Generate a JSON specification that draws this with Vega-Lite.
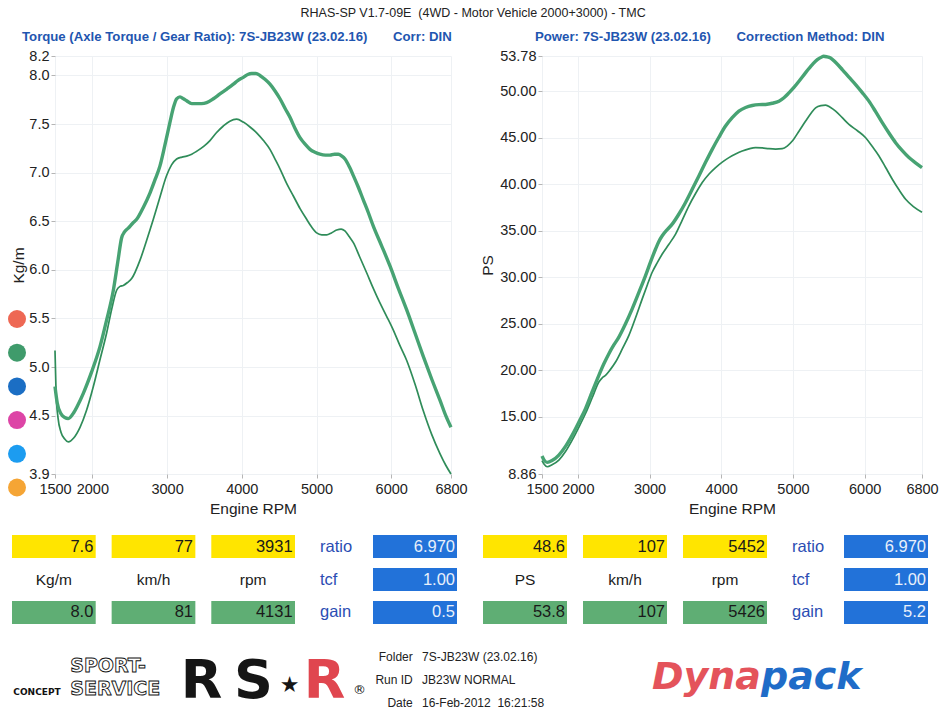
{
"$schema": "https://vega.github.io/schema/vega-lite/v6.json",
"background": "white",
"padding": {"left": 8, "top": 7, "right": 0, "bottom": 0},
"autosize": {"type": "pad"},
"title": {"text": "RHAS-SP V1.7-09E\u00a0 (4WD - Motor Vehicle 2000+3000) - TMC", "fontSize": 12.5, "fontWeight": "normal", "color": "#222222", "anchor": "middle", "offset": 10},
"columns": 2,
"bounds": "flush",
"spacing": {"row": 20, "column": 91},
"datasets": {
"torque": [
{"rpm":1500,"run":"Run 1","kgm":5.17},{"rpm":1515,"run":"Run 1","kgm":4.72},{"rpm":1540,"run":"Run 1","kgm":4.48},{"rpm":1580,"run":"Run 1","kgm":4.33},{"rpm":1630,"run":"Run 1","kgm":4.26},{"rpm":1678,"run":"Run 1","kgm":4.23},{"rpm":1750,"run":"Run 1","kgm":4.27},{"rpm":1835,"run":"Run 1","kgm":4.38},{"rpm":1920,"run":"Run 1","kgm":4.55},{"rpm":2013,"run":"Run 1","kgm":4.80},{"rpm":2100,"run":"Run 1","kgm":5.07},{"rpm":2191,"run":"Run 1","kgm":5.35},{"rpm":2260,"run":"Run 1","kgm":5.60},{"rpm":2325,"run":"Run 1","kgm":5.79},{"rpm":2370,"run":"Run 1","kgm":5.83},{"rpm":2414,"run":"Run 1","kgm":5.84},{"rpm":2470,"run":"Run 1","kgm":5.87},{"rpm":2526,"run":"Run 1","kgm":5.91},{"rpm":2638,"run":"Run 1","kgm":6.10},{"rpm":2725,"run":"Run 1","kgm":6.30},{"rpm":2816,"run":"Run 1","kgm":6.52},{"rpm":2905,"run":"Run 1","kgm":6.75},{"rpm":2994,"run":"Run 1","kgm":6.97},{"rpm":3060,"run":"Run 1","kgm":7.08},{"rpm":3128,"run":"Run 1","kgm":7.14},{"rpm":3200,"run":"Run 1","kgm":7.16},{"rpm":3262,"run":"Run 1","kgm":7.17},{"rpm":3330,"run":"Run 1","kgm":7.19},{"rpm":3396,"run":"Run 1","kgm":7.22},{"rpm":3490,"run":"Run 1","kgm":7.27},{"rpm":3574,"run":"Run 1","kgm":7.33},{"rpm":3660,"run":"Run 1","kgm":7.41},{"rpm":3753,"run":"Run 1","kgm":7.48},{"rpm":3840,"run":"Run 1","kgm":7.53},{"rpm":3931,"run":"Run 1","kgm":7.55},{"rpm":4020,"run":"Run 1","kgm":7.52},{"rpm":4110,"run":"Run 1","kgm":7.47},{"rpm":4199,"run":"Run 1","kgm":7.41},{"rpm":4290,"run":"Run 1","kgm":7.33},{"rpm":4377,"run":"Run 1","kgm":7.24},{"rpm":4445,"run":"Run 1","kgm":7.14},{"rpm":4511,"run":"Run 1","kgm":7.04},{"rpm":4600,"run":"Run 1","kgm":6.89},{"rpm":4690,"run":"Run 1","kgm":6.76},{"rpm":4780,"run":"Run 1","kgm":6.63},{"rpm":4868,"run":"Run 1","kgm":6.52},{"rpm":4935,"run":"Run 1","kgm":6.44},{"rpm":5002,"run":"Run 1","kgm":6.38},{"rpm":5070,"run":"Run 1","kgm":6.36},{"rpm":5136,"run":"Run 1","kgm":6.36},{"rpm":5200,"run":"Run 1","kgm":6.38},{"rpm":5270,"run":"Run 1","kgm":6.41},{"rpm":5330,"run":"Run 1","kgm":6.42},{"rpm":5380,"run":"Run 1","kgm":6.40},{"rpm":5440,"run":"Run 1","kgm":6.34},{"rpm":5493,"run":"Run 1","kgm":6.28},{"rpm":5580,"run":"Run 1","kgm":6.13},{"rpm":5671,"run":"Run 1","kgm":5.97},{"rpm":5760,"run":"Run 1","kgm":5.81},{"rpm":5849,"run":"Run 1","kgm":5.66},{"rpm":5940,"run":"Run 1","kgm":5.52},{"rpm":6028,"run":"Run 1","kgm":5.38},{"rpm":6117,"run":"Run 1","kgm":5.22},{"rpm":6206,"run":"Run 1","kgm":5.07},{"rpm":6320,"run":"Run 1","kgm":4.82},{"rpm":6429,"run":"Run 1","kgm":4.55},{"rpm":6540,"run":"Run 1","kgm":4.31},{"rpm":6652,"run":"Run 1","kgm":4.11},{"rpm":6730,"run":"Run 1","kgm":3.99},{"rpm":6800,"run":"Run 1","kgm":3.90},
{"rpm":1500,"run":"Run 2","kgm":4.80},{"rpm":1530,"run":"Run 2","kgm":4.63},{"rpm":1580,"run":"Run 2","kgm":4.52},{"rpm":1630,"run":"Run 2","kgm":4.48},{"rpm":1678,"run":"Run 2","kgm":4.47},{"rpm":1750,"run":"Run 2","kgm":4.53},{"rpm":1800,"run":"Run 2","kgm":4.60},{"rpm":1879,"run":"Run 2","kgm":4.73},{"rpm":1990,"run":"Run 2","kgm":4.95},{"rpm":2102,"run":"Run 2","kgm":5.21},{"rpm":2190,"run":"Run 2","kgm":5.48},{"rpm":2281,"run":"Run 2","kgm":5.79},{"rpm":2340,"run":"Run 2","kgm":6.08},{"rpm":2392,"run":"Run 2","kgm":6.33},{"rpm":2430,"run":"Run 2","kgm":6.39},{"rpm":2481,"run":"Run 2","kgm":6.43},{"rpm":2540,"run":"Run 2","kgm":6.48},{"rpm":2593,"run":"Run 2","kgm":6.52},{"rpm":2680,"run":"Run 2","kgm":6.64},{"rpm":2771,"run":"Run 2","kgm":6.79},{"rpm":2840,"run":"Run 2","kgm":6.93},{"rpm":2905,"run":"Run 2","kgm":7.07},{"rpm":2970,"run":"Run 2","kgm":7.28},{"rpm":3039,"run":"Run 2","kgm":7.52},{"rpm":3085,"run":"Run 2","kgm":7.67},{"rpm":3128,"run":"Run 2","kgm":7.76},{"rpm":3173,"run":"Run 2","kgm":7.78},{"rpm":3220,"run":"Run 2","kgm":7.76},{"rpm":3262,"run":"Run 2","kgm":7.74},{"rpm":3330,"run":"Run 2","kgm":7.71},{"rpm":3396,"run":"Run 2","kgm":7.71},{"rpm":3460,"run":"Run 2","kgm":7.71},{"rpm":3530,"run":"Run 2","kgm":7.72},{"rpm":3620,"run":"Run 2","kgm":7.76},{"rpm":3708,"run":"Run 2","kgm":7.81},{"rpm":3800,"run":"Run 2","kgm":7.86},{"rpm":3887,"run":"Run 2","kgm":7.91},{"rpm":3950,"run":"Run 2","kgm":7.95},{"rpm":4020,"run":"Run 2","kgm":7.98},{"rpm":4080,"run":"Run 2","kgm":8.01},{"rpm":4132,"run":"Run 2","kgm":8.02},{"rpm":4190,"run":"Run 2","kgm":8.02},{"rpm":4243,"run":"Run 2","kgm":8.00},{"rpm":4310,"run":"Run 2","kgm":7.96},{"rpm":4377,"run":"Run 2","kgm":7.91},{"rpm":4445,"run":"Run 2","kgm":7.84},{"rpm":4511,"run":"Run 2","kgm":7.76},{"rpm":4580,"run":"Run 2","kgm":7.66},{"rpm":4645,"run":"Run 2","kgm":7.57},{"rpm":4710,"run":"Run 2","kgm":7.46},{"rpm":4779,"run":"Run 2","kgm":7.36},{"rpm":4850,"run":"Run 2","kgm":7.29},{"rpm":4913,"run":"Run 2","kgm":7.24},{"rpm":4980,"run":"Run 2","kgm":7.21},{"rpm":5046,"run":"Run 2","kgm":7.19},{"rpm":5120,"run":"Run 2","kgm":7.18},{"rpm":5180,"run":"Run 2","kgm":7.18},{"rpm":5240,"run":"Run 2","kgm":7.19},{"rpm":5292,"run":"Run 2","kgm":7.19},{"rpm":5340,"run":"Run 2","kgm":7.17},{"rpm":5381,"run":"Run 2","kgm":7.14},{"rpm":5440,"run":"Run 2","kgm":7.06},{"rpm":5493,"run":"Run 2","kgm":6.97},{"rpm":5560,"run":"Run 2","kgm":6.85},{"rpm":5626,"run":"Run 2","kgm":6.72},{"rpm":5693,"run":"Run 2","kgm":6.59},{"rpm":5760,"run":"Run 2","kgm":6.45},{"rpm":5870,"run":"Run 2","kgm":6.25},{"rpm":5983,"run":"Run 2","kgm":6.04},{"rpm":6095,"run":"Run 2","kgm":5.81},{"rpm":6206,"run":"Run 2","kgm":5.59},{"rpm":6318,"run":"Run 2","kgm":5.35},{"rpm":6429,"run":"Run 2","kgm":5.11},{"rpm":6540,"run":"Run 2","kgm":4.88},{"rpm":6652,"run":"Run 2","kgm":4.66},{"rpm":6730,"run":"Run 2","kgm":4.50},{"rpm":6800,"run":"Run 2","kgm":4.38}
],
"power": [
{"rpm":1500,"run":"Run 1","ps":10.30},{"rpm":1530,"run":"Run 1","ps":9.90},{"rpm":1572,"run":"Run 1","ps":9.64},{"rpm":1640,"run":"Run 1","ps":9.85},{"rpm":1735,"run":"Run 1","ps":10.36},{"rpm":1830,"run":"Run 1","ps":11.30},{"rpm":1921,"run":"Run 1","ps":12.50},{"rpm":2015,"run":"Run 1","ps":13.90},{"rpm":2107,"run":"Run 1","ps":15.36},{"rpm":2200,"run":"Run 1","ps":17.05},{"rpm":2293,"run":"Run 1","ps":18.75},{"rpm":2340,"run":"Run 1","ps":19.20},{"rpm":2386,"run":"Run 1","ps":19.46},{"rpm":2450,"run":"Run 1","ps":20.05},{"rpm":2526,"run":"Run 1","ps":20.89},{"rpm":2620,"run":"Run 1","ps":22.30},{"rpm":2712,"run":"Run 1","ps":23.75},{"rpm":2805,"run":"Run 1","ps":25.65},{"rpm":2898,"run":"Run 1","ps":27.68},{"rpm":2970,"run":"Run 1","ps":29.20},{"rpm":3037,"run":"Run 1","ps":30.54},{"rpm":3110,"run":"Run 1","ps":31.60},{"rpm":3177,"run":"Run 1","ps":32.50},{"rpm":3270,"run":"Run 1","ps":33.55},{"rpm":3363,"run":"Run 1","ps":34.64},{"rpm":3456,"run":"Run 1","ps":36.15},{"rpm":3549,"run":"Run 1","ps":37.68},{"rpm":3642,"run":"Run 1","ps":39.00},{"rpm":3735,"run":"Run 1","ps":40.18},{"rpm":3830,"run":"Run 1","ps":41.10},{"rpm":3921,"run":"Run 1","ps":41.79},{"rpm":4014,"run":"Run 1","ps":42.38},{"rpm":4107,"run":"Run 1","ps":42.86},{"rpm":4200,"run":"Run 1","ps":43.25},{"rpm":4293,"run":"Run 1","ps":43.57},{"rpm":4386,"run":"Run 1","ps":43.80},{"rpm":4479,"run":"Run 1","ps":43.93},{"rpm":4572,"run":"Run 1","ps":43.90},{"rpm":4665,"run":"Run 1","ps":43.82},{"rpm":4758,"run":"Run 1","ps":43.78},{"rpm":4851,"run":"Run 1","ps":43.82},{"rpm":4920,"run":"Run 1","ps":44.10},{"rpm":4991,"run":"Run 1","ps":44.64},{"rpm":5084,"run":"Run 1","ps":45.70},{"rpm":5177,"run":"Run 1","ps":46.79},{"rpm":5250,"run":"Run 1","ps":47.60},{"rpm":5316,"run":"Run 1","ps":48.21},{"rpm":5390,"run":"Run 1","ps":48.45},{"rpm":5456,"run":"Run 1","ps":48.50},{"rpm":5525,"run":"Run 1","ps":48.25},{"rpm":5595,"run":"Run 1","ps":47.86},{"rpm":5688,"run":"Run 1","ps":47.15},{"rpm":5781,"run":"Run 1","ps":46.43},{"rpm":5900,"run":"Run 1","ps":45.75},{"rpm":6014,"run":"Run 1","ps":45.00},{"rpm":6107,"run":"Run 1","ps":44.05},{"rpm":6200,"run":"Run 1","ps":43.04},{"rpm":6293,"run":"Run 1","ps":41.80},{"rpm":6386,"run":"Run 1","ps":40.54},{"rpm":6479,"run":"Run 1","ps":39.40},{"rpm":6572,"run":"Run 1","ps":38.39},{"rpm":6680,"run":"Run 1","ps":37.60},{"rpm":6800,"run":"Run 1","ps":37.00},
{"rpm":1500,"run":"Run 2","ps":10.80},{"rpm":1530,"run":"Run 2","ps":10.35},{"rpm":1572,"run":"Run 2","ps":10.11},{"rpm":1640,"run":"Run 2","ps":10.30},{"rpm":1735,"run":"Run 2","ps":10.89},{"rpm":1830,"run":"Run 2","ps":11.85},{"rpm":1921,"run":"Run 2","ps":13.04},{"rpm":2015,"run":"Run 2","ps":14.45},{"rpm":2107,"run":"Run 2","ps":15.89},{"rpm":2200,"run":"Run 2","ps":17.70},{"rpm":2293,"run":"Run 2","ps":19.46},{"rpm":2363,"run":"Run 2","ps":20.70},{"rpm":2433,"run":"Run 2","ps":21.79},{"rpm":2500,"run":"Run 2","ps":22.70},{"rpm":2572,"run":"Run 2","ps":23.57},{"rpm":2665,"run":"Run 2","ps":25.00},{"rpm":2758,"run":"Run 2","ps":26.61},{"rpm":2850,"run":"Run 2","ps":28.35},{"rpm":2944,"run":"Run 2","ps":30.18},{"rpm":3014,"run":"Run 2","ps":31.65},{"rpm":3084,"run":"Run 2","ps":33.04},{"rpm":3130,"run":"Run 2","ps":33.85},{"rpm":3177,"run":"Run 2","ps":34.46},{"rpm":3250,"run":"Run 2","ps":35.15},{"rpm":3316,"run":"Run 2","ps":35.71},{"rpm":3410,"run":"Run 2","ps":36.80},{"rpm":3502,"run":"Run 2","ps":38.04},{"rpm":3595,"run":"Run 2","ps":39.45},{"rpm":3688,"run":"Run 2","ps":40.89},{"rpm":3781,"run":"Run 2","ps":42.35},{"rpm":3874,"run":"Run 2","ps":43.75},{"rpm":3967,"run":"Run 2","ps":45.05},{"rpm":4060,"run":"Run 2","ps":46.25},{"rpm":4153,"run":"Run 2","ps":47.15},{"rpm":4246,"run":"Run 2","ps":47.86},{"rpm":4340,"run":"Run 2","ps":48.25},{"rpm":4433,"run":"Run 2","ps":48.46},{"rpm":4526,"run":"Run 2","ps":48.55},{"rpm":4619,"run":"Run 2","ps":48.57},{"rpm":4712,"run":"Run 2","ps":48.70},{"rpm":4805,"run":"Run 2","ps":48.93},{"rpm":4875,"run":"Run 2","ps":49.30},{"rpm":4944,"run":"Run 2","ps":49.82},{"rpm":5014,"run":"Run 2","ps":50.40},{"rpm":5084,"run":"Run 2","ps":51.07},{"rpm":5177,"run":"Run 2","ps":52.00},{"rpm":5270,"run":"Run 2","ps":52.86},{"rpm":5340,"run":"Run 2","ps":53.40},{"rpm":5409,"run":"Run 2","ps":53.70},{"rpm":5426,"run":"Run 2","ps":53.75},{"rpm":5470,"run":"Run 2","ps":53.70},{"rpm":5525,"run":"Run 2","ps":53.57},{"rpm":5600,"run":"Run 2","ps":53.05},{"rpm":5688,"run":"Run 2","ps":52.32},{"rpm":5781,"run":"Run 2","ps":51.50},{"rpm":5874,"run":"Run 2","ps":50.71},{"rpm":5967,"run":"Run 2","ps":49.85},{"rpm":6060,"run":"Run 2","ps":48.93},{"rpm":6153,"run":"Run 2","ps":47.80},{"rpm":6246,"run":"Run 2","ps":46.61},{"rpm":6339,"run":"Run 2","ps":45.50},{"rpm":6432,"run":"Run 2","ps":44.46},{"rpm":6525,"run":"Run 2","ps":43.60},{"rpm":6618,"run":"Run 2","ps":42.86},{"rpm":6710,"run":"Run 2","ps":42.30},{"rpm":6800,"run":"Run 2","ps":41.79}
],
"slots": [{"slot":"1"},{"slot":"2"},{"slot":"3"},{"slot":"4"},{"slot":"5"},{"slot":"6"}],
"torque_cells": [
{"unit":"Kg/m","row":"current","value":"7.6"},{"unit":"km/h","row":"current","value":"77"},{"unit":"rpm","row":"current","value":"3931"},
{"unit":"Kg/m","row":"best","value":"8.0"},{"unit":"km/h","row":"best","value":"81"},{"unit":"rpm","row":"best","value":"4131"}],
"torque_settings": [{"name":"ratio","value":"6.970"},{"name":"tcf","value":"1.00"},{"name":"gain","value":"0.5"}],
"power_cells": [
{"unit":"PS","row":"current","value":"48.6"},{"unit":"km/h","row":"current","value":"107"},{"unit":"rpm","row":"current","value":"5452"},
{"unit":"PS","row":"best","value":"53.8"},{"unit":"km/h","row":"best","value":"107"},{"unit":"rpm","row":"best","value":"5426"}],
"power_settings": [{"name":"ratio","value":"6.970"},{"name":"tcf","value":"1.00"},{"name":"gain","value":"5.2"}],
"footer_info": [{"item":"Folder","value":"7S-JB23W (23.02.16)"},{"item":"Run ID","value":"JB23W NORMAL"},{"item":"Date","value":"16-Feb-2012\u00a0 16:21:58"}],
"footer_brand": [{"piece":"CONCEPT","line":"Date","word":"concept"},{"piece":"SPORT-","line":"Folder","word":"sport"},{"piece":"SERVICE","line":"Run ID","word":"sport"},{"piece":"R","line":"Run ID","word":"RS"},{"piece":"S","line":"Run ID","word":"RS"},{"piece":"\u2605","line":"Run ID","word":"star"},{"piece":"R","line":"Run ID","word":"R"},{"piece":"\u00ae","line":"Date","word":"reg"}],
"footer_logo": [{"piece":"Dyna"},{"piece":"pack"}]
},
"concat": [
{
"width": 396, "height": 418,
"title": {"text": "Torque (Axle Torque / Gear Ratio): 7S-JB23W (23.02.16)\u00a0\u00a0\u00a0\u00a0\u00a0\u00a0\u00a0Corr: DIN", "anchor": "start", "frame": "group", "dx": -33, "fontSize": 13.2, "fontWeight": "bold", "color": "#1f56b0", "offset": 4},
"layer": [
{"data": {"name": "torque"}, "transform": [{"filter": "datum.run === 'Run 1'"}], "mark": {"type": "line", "interpolate": "monotone", "stroke": "#2f8c59", "strokeWidth": 1.7},
 "encoding": {
 "x": {"field": "rpm", "type": "quantitative", "scale": {"domain": [1500, 6800], "nice": false, "zero": false}, "axis": {"values": [1500,2000,3000,4000,5000,6000,6800], "title": "Engine RPM", "format": "d"}},
 "y": {"field": "kgm", "type": "quantitative", "scale": {"domain": [3.9, 8.2], "nice": false, "zero": false}, "axis": {"values": [3.9,4.5,5.0,5.5,6.0,6.5,7.0,7.5,8.0,8.2], "format": ".1f", "title": "Kg/m"}}}},
{"data": {"name": "torque"}, "transform": [{"filter": "datum.run === 'Run 2'"}], "mark": {"type": "line", "interpolate": "monotone", "stroke": "#47a373", "strokeWidth": 3.4},
 "encoding": {
 "x": {"field": "rpm", "type": "quantitative"},
 "y": {"field": "kgm", "type": "quantitative"}}},
{"data": {"name": "slots"}, "mark": {"type": "point", "filled": true, "opacity": 0},
 "encoding": {"fill": {"field": "slot", "type": "nominal", "scale": {"domain": ["1","2","3","4","5","6"], "range": ["#ee6854","#3f9b6b","#1b6ec4","#dd45a6","#1c9cf0","#f5a535"]},
 "legend": {"orient": "none", "legendX": -47, "legendY": 254, "title": null, "labelExpr": "''", "symbolType": "circle", "symbolSize": 324, "symbolOpacity": 1, "symbolStrokeWidth": 0, "rowPadding": 15.7, "padding": 0, "labelFontSize": 1, "labelOffset": 0}}}}
]
},
{
"width": 380, "height": 418,
"title": {"text": "Power: 7S-JB23W (23.02.16)\u00a0\u00a0\u00a0\u00a0\u00a0\u00a0\u00a0Correction Method: DIN", "anchor": "start", "frame": "group", "dx": -7, "fontSize": 13.2, "fontWeight": "bold", "color": "#1f56b0", "offset": 4},
"layer": [
{"data": {"name": "power"}, "transform": [{"filter": "datum.run === 'Run 1'"}], "mark": {"type": "line", "interpolate": "monotone", "stroke": "#2f8c59", "strokeWidth": 1.7},
 "encoding": {
 "x": {"field": "rpm", "type": "quantitative", "scale": {"domain": [1500, 6800], "nice": false, "zero": false}, "axis": {"values": [1500,2000,3000,4000,5000,6000,6800], "title": "Engine RPM", "format": "d"}},
 "y": {"field": "ps", "type": "quantitative", "scale": {"domain": [8.86, 53.78], "nice": false, "zero": false}, "axis": {"values": [8.86,15,20,25,30,35,40,45,50,53.78], "format": ".2f", "title": "PS", "titlePadding": 4}}}},
{"data": {"name": "power"}, "transform": [{"filter": "datum.run === 'Run 2'"}], "mark": {"type": "line", "interpolate": "monotone", "stroke": "#47a373", "strokeWidth": 3.4},
 "encoding": {
 "x": {"field": "rpm", "type": "quantitative"},
 "y": {"field": "ps", "type": "quantitative"}}},
{"data": {"name": "slots"}, "mark": {"type": "point", "filled": true, "opacity": 0},
 "encoding": {"fill": {"field": "slot", "type": "nominal", "scale": {"domain": ["1","2","3","4","5","6"], "range": ["#f3f5f9","#f3f5f9","#f3f5f9","#f3f5f9","#f3f5f9","#f3f5f9"]},
 "legend": {"orient": "none", "legendX": -64, "legendY": 254, "title": null, "labelExpr": "''", "symbolType": "circle", "symbolSize": 324, "symbolOpacity": 1, "symbolStrokeWidth": 0, "rowPadding": 15.7, "padding": 0, "labelFontSize": 1, "labelOffset": 0}}}}
]
},
{
"width": 396, "height": 130,
"resolve": {"scale": {"x": "independent", "y": "independent", "fill": "independent"}},
"layer": [
{"data": {"name": "torque_cells"}, "mark": {"type": "rect"},
 "encoding": {
 "x": {"field": "unit", "type": "nominal", "axis": null, "scale": {"type": "band", "domain": ["Kg/m","km/h","rpm"], "range": [-43, 240], "paddingInner": 0.16, "paddingOuter": 0}},
 "y": {"field": "row", "type": "nominal", "axis": null, "scale": {"type": "band", "domain": ["current","unit","best"], "range": [41, 130], "paddingInner": 0.3, "paddingOuter": 0}},
 "fill": {"field": "row", "type": "nominal", "scale": {"domain": ["current","best"], "range": ["#ffe500","#5fae74"]}, "legend": null}}},
{"data": {"name": "torque_cells"}, "mark": {"type": "text", "align": "right", "dx": 39.5, "fontSize": 16.5, "color": "#1a1a1a"},
 "encoding": {
 "x": {"field": "unit", "type": "nominal", "axis": null, "scale": {"type": "band", "domain": ["Kg/m","km/h","rpm"], "range": [-43, 240], "paddingInner": 0.16, "paddingOuter": 0}},
 "y": {"field": "row", "type": "nominal", "axis": null, "scale": {"type": "band", "domain": ["current","unit","best"], "range": [41, 130], "paddingInner": 0.3, "paddingOuter": 0}},
 "text": {"field": "value"}}},
{"data": {"name": "torque_cells"}, "transform": [{"filter": "datum.row === 'current'"}], "mark": {"type": "text", "fontSize": 15.5, "color": "#1a1a1a"},
 "encoding": {
 "x": {"field": "unit", "type": "nominal", "axis": null, "scale": {"type": "band", "domain": ["Kg/m","km/h","rpm"], "range": [-43, 240], "paddingInner": 0.16, "paddingOuter": 0}},
 "y": {"datum": "unit", "type": "nominal", "axis": null, "scale": {"type": "band", "domain": ["current","unit","best"], "range": [41, 130], "paddingInner": 0.3, "paddingOuter": 0}},
 "text": {"field": "unit"}}},
{"data": {"name": "torque_settings"}, "mark": {"type": "rect", "color": "#2272d9"},
 "encoding": {
 "x": {"datum": "setting", "type": "nominal", "axis": null, "scale": {"type": "band", "domain": ["setting"], "range": [318, 402], "paddingInner": 0, "paddingOuter": 0}},
 "y": {"field": "name", "type": "nominal", "axis": null, "scale": {"type": "band", "domain": ["ratio","tcf","gain"], "range": [41, 130], "paddingInner": 0.3, "paddingOuter": 0}}}},
{"data": {"name": "torque_settings"}, "mark": {"type": "text", "align": "right", "dx": 40, "fontSize": 16.5, "color": "#e9f0fb"},
 "encoding": {
 "x": {"datum": "setting", "type": "nominal", "axis": null, "scale": {"type": "band", "domain": ["setting"], "range": [318, 402], "paddingInner": 0, "paddingOuter": 0}},
 "y": {"field": "name", "type": "nominal", "axis": null, "scale": {"type": "band", "domain": ["ratio","tcf","gain"], "range": [41, 130], "paddingInner": 0.3, "paddingOuter": 0}},
 "text": {"field": "value"}}},
{"data": {"name": "torque_settings"}, "mark": {"type": "text", "align": "left", "dx": -95, "fontSize": 16.5, "color": "#2b4db3"},
 "encoding": {
 "x": {"datum": "setting", "type": "nominal", "axis": null, "scale": {"type": "band", "domain": ["setting"], "range": [318, 402], "paddingInner": 0, "paddingOuter": 0}},
 "y": {"field": "name", "type": "nominal", "axis": null, "scale": {"type": "band", "domain": ["ratio","tcf","gain"], "range": [41, 130], "paddingInner": 0.3, "paddingOuter": 0}},
 "text": {"field": "name"}}}
]
},
{
"width": 380, "height": 130,
"resolve": {"scale": {"x": "independent", "y": "independent", "fill": "independent"}},
"layer": [
{"data": {"name": "power_cells"}, "mark": {"type": "rect"},
 "encoding": {
 "x": {"field": "unit", "type": "nominal", "axis": null, "scale": {"type": "band", "domain": ["PS","km/h","rpm"], "range": [-59, 225], "paddingInner": 0.16, "paddingOuter": 0}},
 "y": {"field": "row", "type": "nominal", "axis": null, "scale": {"type": "band", "domain": ["current","unit","best"], "range": [41, 130], "paddingInner": 0.3, "paddingOuter": 0}},
 "fill": {"field": "row", "type": "nominal", "scale": {"domain": ["current","best"], "range": ["#ffe500","#5fae74"]}, "legend": null}}},
{"data": {"name": "power_cells"}, "mark": {"type": "text", "align": "right", "dx": 40, "fontSize": 16.5, "color": "#1a1a1a"},
 "encoding": {
 "x": {"field": "unit", "type": "nominal", "axis": null, "scale": {"type": "band", "domain": ["PS","km/h","rpm"], "range": [-59, 225], "paddingInner": 0.16, "paddingOuter": 0}},
 "y": {"field": "row", "type": "nominal", "axis": null, "scale": {"type": "band", "domain": ["current","unit","best"], "range": [41, 130], "paddingInner": 0.3, "paddingOuter": 0}},
 "text": {"field": "value"}}},
{"data": {"name": "power_cells"}, "transform": [{"filter": "datum.row === 'current'"}], "mark": {"type": "text", "fontSize": 15.5, "color": "#1a1a1a"},
 "encoding": {
 "x": {"field": "unit", "type": "nominal", "axis": null, "scale": {"type": "band", "domain": ["PS","km/h","rpm"], "range": [-59, 225], "paddingInner": 0.16, "paddingOuter": 0}},
 "y": {"datum": "unit", "type": "nominal", "axis": null, "scale": {"type": "band", "domain": ["current","unit","best"], "range": [41, 130], "paddingInner": 0.3, "paddingOuter": 0}},
 "text": {"field": "unit"}}},
{"data": {"name": "power_settings"}, "mark": {"type": "rect", "color": "#2272d9"},
 "encoding": {
 "x": {"datum": "setting", "type": "nominal", "axis": null, "scale": {"type": "band", "domain": ["setting"], "range": [302, 386], "paddingInner": 0, "paddingOuter": 0}},
 "y": {"field": "name", "type": "nominal", "axis": null, "scale": {"type": "band", "domain": ["ratio","tcf","gain"], "range": [41, 130], "paddingInner": 0.3, "paddingOuter": 0}}}},
{"data": {"name": "power_settings"}, "mark": {"type": "text", "align": "right", "dx": 40, "fontSize": 16.5, "color": "#e9f0fb"},
 "encoding": {
 "x": {"datum": "setting", "type": "nominal", "axis": null, "scale": {"type": "band", "domain": ["setting"], "range": [302, 386], "paddingInner": 0, "paddingOuter": 0}},
 "y": {"field": "name", "type": "nominal", "axis": null, "scale": {"type": "band", "domain": ["ratio","tcf","gain"], "range": [41, 130], "paddingInner": 0.3, "paddingOuter": 0}},
 "text": {"field": "value"}}},
{"data": {"name": "power_settings"}, "mark": {"type": "text", "align": "left", "dx": -94, "fontSize": 16.5, "color": "#2b4db3"},
 "encoding": {
 "x": {"datum": "setting", "type": "nominal", "axis": null, "scale": {"type": "band", "domain": ["setting"], "range": [302, 386], "paddingInner": 0, "paddingOuter": 0}},
 "y": {"field": "name", "type": "nominal", "axis": null, "scale": {"type": "band", "domain": ["ratio","tcf","gain"], "range": [41, 130], "paddingInner": 0.3, "paddingOuter": 0}},
 "text": {"field": "name"}}}
]
},
{
"width": 396, "height": 71,
"encoding": {
 "y": {"field": "line", "type": "nominal", "axis": null, "scale": {"type": "point", "domain": ["Folder","Run ID","Date"], "range": [13, 59], "padding": 0}}
},
"layer": [
{"data": {"name": "footer_info"}, "mark": {"type": "text", "align": "right", "dx": 87, "fontSize": 12, "color": "#222222"},
 "encoding": {"x": {"datum": "label", "type": "nominal", "axis": null, "scale": {"type": "point", "domain": ["concept","sport","rsr","label","value"], "range": [-18, 367], "padding": 0}}, "y": {"field": "item", "type": "nominal"}, "text": {"field": "item"}}},
{"data": {"name": "footer_info"}, "mark": {"type": "text", "align": "left", "fontSize": 12, "color": "#222222"},
 "encoding": {"x": {"datum": "value", "type": "nominal"}, "y": {"field": "item", "type": "nominal"}, "text": {"field": "value"}}},
{"data": {"name": "footer_brand"}, "transform": [{"filter": "datum.word === 'concept'"}], "mark": {"type": "text", "dy": -11, "font": "DejaVu Sans", "fontWeight": "bold", "fontSize": 9, "color": "#111111"},
 "encoding": {"x": {"datum": "concept", "type": "nominal"}, "text": {"field": "piece"}}},
{"data": {"name": "footer_brand"}, "transform": [{"filter": "datum.word === 'sport'"}], "mark": {"type": "text", "align": "left", "dx": -63, "dy": 8.5, "font": "DejaVu Sans", "fontWeight": "bold", "fontSize": 19, "fill": "#ffffff", "stroke": "#111111", "strokeWidth": 0.9},
 "encoding": {"x": {"datum": "sport", "type": "nominal"}, "text": {"field": "piece"}}},
{"data": {"name": "footer_brand"}, "transform": [{"filter": "datum.word === 'RS' && datum.piece === 'R'"}], "mark": {"type": "text", "dx": -28, "dy": 2, "font": "DejaVu Sans", "fontWeight": "bold", "fontSize": 54, "color": "#151515"},
 "encoding": {"x": {"datum": "rsr", "type": "nominal"}, "text": {"field": "piece"}}},
{"data": {"name": "footer_brand"}, "transform": [{"filter": "datum.word === 'RS' && datum.piece === 'S'"}], "mark": {"type": "text", "dx": 24, "dy": 2, "font": "DejaVu Sans", "fontWeight": "bold", "fontSize": 54, "color": "#151515"},
 "encoding": {"x": {"datum": "rsr", "type": "nominal"}, "text": {"field": "piece"}}},
{"data": {"name": "footer_brand"}, "transform": [{"filter": "datum.word === 'star'"}], "mark": {"type": "text", "dx": 60, "dy": 5, "font": "DejaVu Sans", "fontSize": 22, "color": "#151515"},
 "encoding": {"x": {"datum": "rsr", "type": "nominal"}, "text": {"field": "piece"}}},
{"data": {"name": "footer_brand"}, "transform": [{"filter": "datum.word === 'R'"}], "mark": {"type": "text", "dx": 95, "dy": 2, "font": "DejaVu Sans", "fontWeight": "bold", "fontSize": 54, "color": "#e0464f"},
 "encoding": {"x": {"datum": "rsr", "type": "nominal"}, "text": {"field": "piece"}}},
{"data": {"name": "footer_brand"}, "transform": [{"filter": "datum.word === 'reg'"}], "mark": {"type": "text", "dx": 130, "dy": -13, "font": "DejaVu Sans", "fontSize": 13, "color": "#151515"},
 "encoding": {"x": {"datum": "rsr", "type": "nominal"}, "text": {"field": "piece"}}}
]
},
{
"width": 380, "height": 71,
"layer": [
{"data": {"name": "footer_logo"}, "transform": [{"filter": "datum.piece === 'Dyna'"}], "mark": {"type": "text", "align": "right", "dx": 29, "dy": -2, "font": "DejaVu Sans", "fontWeight": "bold", "fontStyle": "italic", "fontSize": 38, "color": "#e4535b"},
 "encoding": {"x": {"datum": "logo", "type": "nominal", "axis": null}, "y": {"datum": "Run ID", "type": "nominal", "axis": null, "scale": {"type": "point", "domain": ["Folder","Run ID","Date"], "range": [13, 59], "padding": 0}}, "text": {"field": "piece"}}},
{"data": {"name": "footer_logo"}, "transform": [{"filter": "datum.piece === 'pack'"}], "mark": {"type": "text", "align": "left", "dx": 29, "dy": -2, "font": "DejaVu Sans", "fontWeight": "bold", "fontStyle": "italic", "fontSize": 38, "color": "#1f6cc8"},
 "encoding": {"x": {"datum": "logo", "type": "nominal", "axis": null}, "y": {"datum": "Run ID", "type": "nominal", "axis": null}, "text": {"field": "piece"}}}
]
}
],
"config": {
 "font": "Liberation Sans",
 "view": {"stroke": null},
 "axis": {"domain": false, "tickColor": "#b5b5b5", "tickSize": 4, "gridColor": "#eef1f4", "labelFont": "Liberation Sans", "labelFontSize": 14.5, "labelColor": "#222222", "titleFont": "Liberation Sans", "titleFontSize": 15.5, "titleFontWeight": "normal", "titleColor": "#222222", "labelFlush": false, "labelOverlap": false},
 "axisX": {"labelPadding": 4, "titlePadding": 6},
 "axisY": {"labelPadding": 2, "titlePadding": 2},
 "title": {"font": "Liberation Sans"}
}
}
